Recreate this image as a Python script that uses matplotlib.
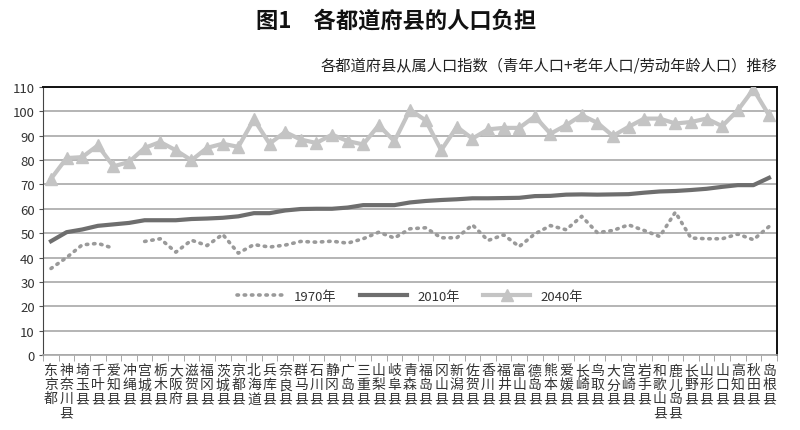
import numpy as np
import matplotlib
matplotlib.use("Agg")
import matplotlib.pyplot as plt

plt.rcParams['font.family'] = ['Noto Sans CJK SC', 'DejaVu Sans']

# 都道府县
prefs = ['东京都', '神奈川县', '埼玉县', '千叶县', '爱知县', '冲绳县', '宫城县', '栃木县',
         '大阪府', '滋贺县', '福冈县', '茨城县', '京都县', '北海道', '兵库县', '奈良县',
         '群马县', '石川县', '静冈县', '广岛县', '三重县', '山梨县', '岐阜县', '青森县',
         '福岛县', '冈山县', '新潟县', '佐贺县', '香川县', '福井县', '富山县', '德岛县',
         '熊本县', '爱媛县', '长崎县', '鸟取县', '大分县', '宫崎县', '岩手县', '和歌山县',
         '鹿儿岛县', '长野县', '山形县', '山口县', '高知县', '秋田县', '岛根县']

# 从属人口指数 (冲绳 1970 无数据)
v1970 = [35.5, 40.0, 45.2, 45.8, 43.8, np.nan, 46.6, 47.7, 42.2, 47.1, 44.9, 49.5,
         41.8, 45.3, 44.3, 45.1, 46.6, 46.3, 46.7, 45.9, 47.7, 50.4, 48.0, 51.8,
         52.2, 48.1, 48.1, 53.4, 47.0, 49.3, 44.5, 49.7, 53.1, 51.4, 56.9, 50.2,
         51.1, 53.4, 51.1, 48.6, 58.6, 48.0, 47.7, 47.7, 49.6, 47.3, 52.7]
v2010 = [46.7, 50.4, 51.5, 53.0, 53.6, 54.2, 55.3, 55.3, 55.3, 55.8, 56.0, 56.3,
         56.9, 58.2, 58.2, 59.3, 59.9, 60.0, 60.0, 60.5, 61.5, 61.5, 61.5, 62.6,
         63.2, 63.6, 63.9, 64.3, 64.3, 64.4, 64.5, 65.2, 65.3, 65.8, 65.9, 65.8,
         65.9, 66.0, 66.6, 67.1, 67.3, 67.7, 68.2, 69.0, 69.7, 69.7, 72.7]
v2040 = [72.3, 80.8, 81.2, 86.0, 77.4, 79.2, 85.0, 87.4, 84.0, 79.9, 85.0, 86.7,
         85.4, 96.7, 86.7, 91.5, 88.4, 87.0, 90.4, 87.8, 86.4, 94.3, 87.7, 100.6,
         96.3, 84.0, 93.6, 88.8, 92.6, 93.2, 93.2, 97.9, 90.8, 94.3, 98.4, 95.3,
         89.9, 93.6, 97.0, 97.0, 95.0, 95.6, 97.0, 93.9, 100.4, 109.0, 98.4]

x = np.arange(len(prefs))

fig = plt.figure(figsize=(8, 4.31), dpi=100)
ax = fig.add_axes([0.054, 0.174, 0.917, 0.622])

ax.plot(x, v1970, color='#9a9a9a', lw=2.6, ls=(0, (0.4, 1.6)), dash_capstyle='round',
        label='1970年', zorder=3)
ax.plot(x, v2010, color='#6e6e6e', lw=3, label='2010年', zorder=4)
ax.plot(x, v2040, color='#c4c4c4', lw=3, marker='^', ms=9, mec='#c4c4c4',
        label='2040年', zorder=5)

ax.set_xlim(-0.5, len(prefs) - 0.5)
ax.set_ylim(0, 110)
ax.set_yticks(range(0, 111, 10))
ax.yaxis.grid(True, color='#a8a8a8', lw=1.2)
ax.set_axisbelow(True)

ax.set_xticks(x)
ax.set_xticklabels(['\n'.join(p) for p in prefs], fontsize=10, color='#333333',
                   linespacing=1.0, va='top')
ax.set_xticks(np.arange(-0.5, len(prefs)), minor=True)
ax.tick_params(axis='x', which='major', length=0, pad=6)
ax.tick_params(axis='x', which='minor', length=4, color='#999999')
ax.tick_params(axis='y', length=3, color='#555555', labelsize=9.5, labelcolor='#333333', pad=3)

for s in ['top', 'right']:
    ax.spines[s].set_color('#111111')
    ax.spines[s].set_linewidth(1.4)
ax.spines['left'].set_color('#444444')
ax.spines['left'].set_linestyle((0, (1, 1)))
ax.spines['bottom'].set_color('#a8a8a8')
ax.spines['bottom'].set_linewidth(1.2)

ax.legend(loc='center', bbox_to_anchor=(0.5, 0.22), ncol=3, frameon=False,
          fontsize=9.5, handlelength=3.5, columnspacing=1.8, labelcolor='#333333')

fig.text(0.495, 0.952, '图1　各都道府县的人口负担', ha='center', va='center',
         fontsize=16, fontweight='bold', color='#111111')
fig.text(0.972, 0.847, '各都道府县从属人口指数（青年人口+老年人口/劳动年龄人口）推移',
         ha='right', va='center', fontsize=11, color='#222222')

fig.savefig('out.png', dpi=100)
